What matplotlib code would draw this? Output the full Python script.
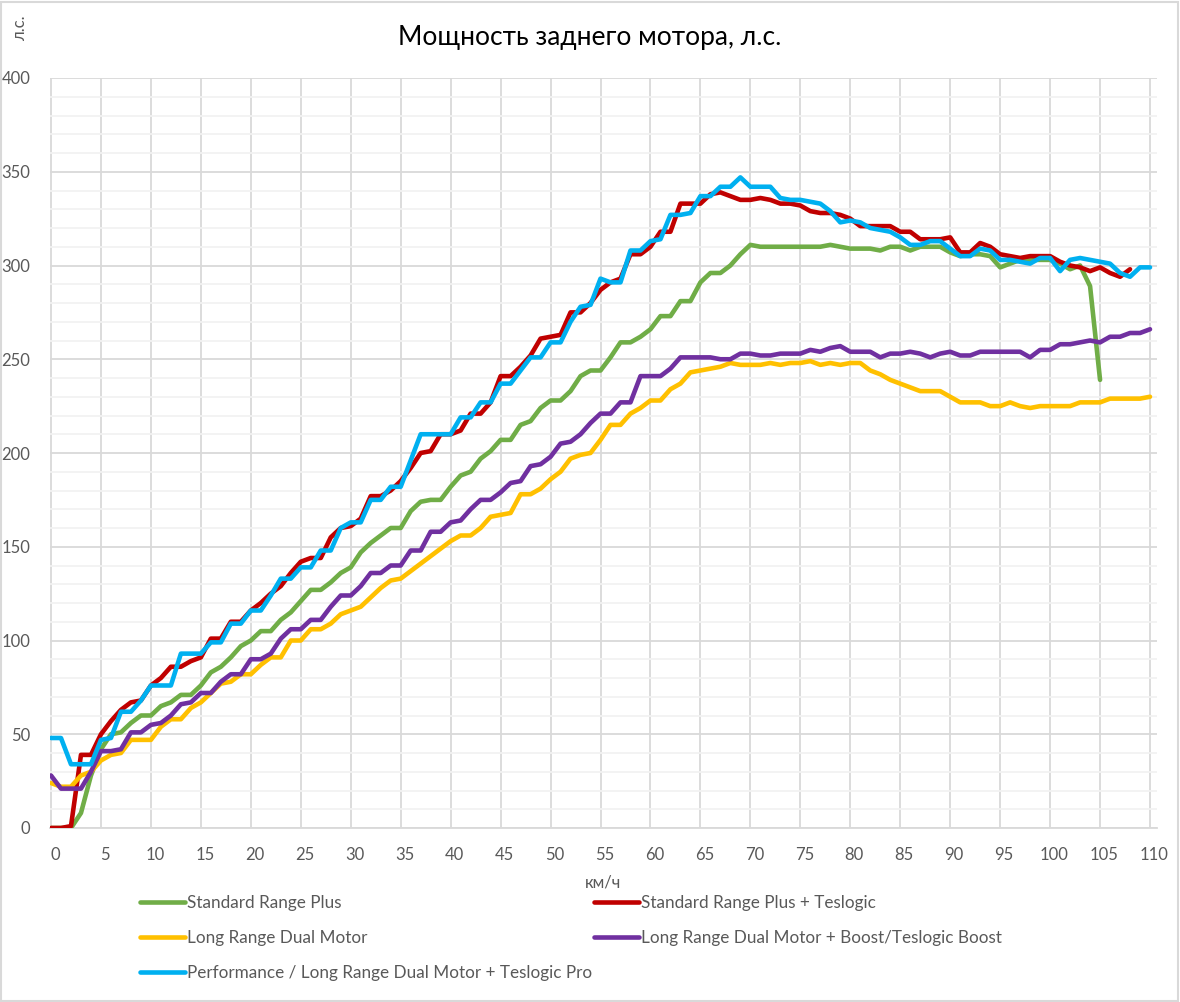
import matplotlib
matplotlib.use("Agg")
import matplotlib.pyplot as plt
from matplotlib.patches import Rectangle
from matplotlib.ticker import MultipleLocator
from matplotlib.transforms import ScaledTranslation

plt.rcParams['font.family'] = ['Lato', 'DejaVu Sans']

speed = list(range(0, 111))

standard_range_plus = [
    0, 0, 0, 8, 28, 42, 50, 51, 56, 60,
    60, 65, 67, 71, 71, 76, 83, 86, 91, 97,
    100, 105, 105, 111, 115, 121, 127, 127, 131, 136,
    139, 147, 152, 156, 160, 160, 169, 174, 175, 175,
    182, 188, 190, 197, 201, 207, 207, 215, 217, 224,
    228, 228, 233, 241, 244, 244, 251, 259, 259, 262,
    266, 273, 273, 281, 281, 291, 296, 296, 300, 306,
    311, 310, 310, 310, 310, 310, 310, 310, 311, 310,
    309, 309, 309, 308, 310, 310, 308, 310, 310, 310,
    307, 305, 306, 306, 305, 299, 301, 303, 303, 303,
    303, 301, 298, 300, 289, 239, None, None, None, None,
    None]

standard_range_plus_teslogic = [
    0, 0, 1, 39, 39, 50, 57, 63, 67, 68,
    76, 80, 86, 86, 89, 91, 101, 101, 110, 110,
    116, 120, 125, 129, 136, 142, 144, 144, 155, 160,
    161, 165, 177, 177, 180, 185, 192, 200, 201, 210,
    210, 212, 221, 221, 227, 241, 241, 246, 252, 261,
    262, 263, 275, 275, 280, 287, 291, 293, 306, 306,
    310, 318, 318, 333, 333, 333, 338, 339, 337, 335,
    335, 336, 335, 333, 333, 332, 329, 328, 328, 327,
    325, 321, 321, 321, 321, 318, 318, 314, 314, 314,
    315, 307, 307, 312, 310, 306, 305, 304, 305, 305,
    305, 302, 300, 299, 297, 299, 296, 294, 298, None,
    None]

long_range_dual = [
    24, 22, 22, 28, 30, 36, 39, 40, 47, 47,
    47, 54, 58, 58, 64, 67, 72, 77, 78, 82,
    82, 87, 91, 91, 100, 100, 106, 106, 109, 114,
    116, 118, 123, 128, 132, 133, 137, 141, 145, 149,
    153, 156, 156, 160, 166, 167, 168, 178, 178, 181,
    186, 190, 197, 199, 200, 207, 215, 215, 221, 224,
    228, 228, 234, 237, 243, 244, 245, 246, 248, 247,
    247, 247, 248, 247, 248, 248, 249, 247, 248, 247,
    248, 248, 244, 242, 239, 237, 235, 233, 233, 233,
    230, 227, 227, 227, 225, 225, 227, 225, 224, 225,
    225, 225, 225, 227, 227, 227, 229, 229, 229, 229,
    230]

long_range_dual_boost = [
    28, 21, 21, 21, 30, 41, 41, 42, 51, 51,
    55, 56, 60, 66, 67, 72, 72, 78, 82, 82,
    90, 90, 93, 101, 106, 106, 111, 111, 118, 124,
    124, 129, 136, 136, 140, 140, 148, 148, 158, 158,
    163, 164, 170, 175, 175, 179, 184, 185, 193, 194,
    198, 205, 206, 210, 216, 221, 221, 227, 227, 241,
    241, 241, 245, 251, 251, 251, 251, 250, 250, 253,
    253, 252, 252, 253, 253, 253, 255, 254, 256, 257,
    254, 254, 254, 251, 253, 253, 254, 253, 251, 253,
    254, 252, 252, 254, 254, 254, 254, 254, 251, 255,
    255, 258, 258, 259, 260, 259, 262, 262, 264, 264,
    266]

performance = [
    48, 48, 34, 34, 34, 47, 48, 62, 62, 68,
    76, 76, 76, 93, 93, 93, 99, 99, 109, 109,
    116, 116, 124, 133, 133, 139, 139, 148, 148, 160,
    163, 163, 175, 175, 182, 182, 196, 210, 210, 210,
    210, 219, 219, 227, 227, 237, 237, 244, 251, 251,
    259, 259, 270, 278, 279, 293, 291, 291, 308, 308,
    313, 314, 327, 327, 328, 337, 337, 342, 342, 347,
    342, 342, 342, 336, 335, 335, 334, 333, 329, 323,
    324, 323, 320, 319, 318, 315, 311, 311, 313, 313,
    309, 305, 305, 309, 308, 303, 303, 302, 301, 304,
    304, 297, 303, 304, 303, 302, 301, 296, 294, 299,
    299]

series_names = [
    "Standard Range Plus",
    "Standard Range Plus + Teslogic",
    "Long Range Dual Motor",
    "Long Range Dual Motor + Boost/Teslogic Boost",
    "Performance / Long Range Dual Motor + Teslogic Pro",
]
series_values = [standard_range_plus, standard_range_plus_teslogic,
                 long_range_dual, long_range_dual_boost, performance]
series_colors = ["#70AD47", "#C00000", "#FFC000", "#7030A0", "#00B0F0"]

x_ticks = list(range(0, 111, 5))

W, H = 1180, 1002
fig = plt.figure(figsize=(W / 100, H / 100), dpi=100)
ax = fig.add_axes([50 / W, 1 - 828 / H, (1157 - 50) / W, (828 - 78) / H])

lines = []
for name, vals, col in zip(series_names, series_values, series_colors):
    yv = [float('nan') if v is None else v for v in vals]
    ln, = ax.plot(speed, yv, color=col, lw=3.3, label=name,
                  solid_joinstyle='round', solid_capstyle='round', zorder=3)
    lines.append(ln)

ax.set_xlim(-0.1, 110.7)
ax.set_ylim(0, 400)
ax.set_xticks(x_ticks)
ax.set_xticklabels([str(t) for t in x_ticks])
ax.yaxis.set_major_locator(MultipleLocator(50))
ax.yaxis.set_minor_locator(MultipleLocator(10))
ax.grid(which='major', axis='both', color='#D9D9D9', lw=1.3, zorder=1)
ax.grid(which='minor', axis='y', color='#F2F2F2', lw=1.3, zorder=0)
ax.set_axisbelow(True)
for s in ['top', 'right', 'left']:
    ax.spines[s].set_visible(False)
ax.spines['bottom'].set_color('#D9D9D9')
ax.spines['bottom'].set_linewidth(1.3)
ax.tick_params(axis='both', which='both', length=0, colors='#595959',
               labelsize=12)
ax.tick_params(axis='y', pad=14)
ax.tick_params(axis='x', pad=14)
shift = ScaledTranslation(4 / 100, 0, fig.dpi_scale_trans)
for lbl in ax.get_xticklabels():
    lbl.set_transform(lbl.get_transform() + shift)

ax.set_xlabel("км/ч", fontsize=12, color='#595959', labelpad=8)

fig.text(590 / W, 1 - 37 / H, "Мощность заднего мотора, л.с.",
         ha='center', va='center', fontsize=19, color='#000000')
fig.text(20 / W, 1 - 28 / H, "л.с.", rotation=90, ha='center', va='center',
         fontsize=12, color='#595959')

leg_kw = dict(frameon=False, fontsize=12.3, handlelength=2.65,
              handletextpad=0.12, labelspacing=1.12, borderaxespad=0,
              borderpad=0, labelcolor='#595959', loc='upper left')
fig.legend([lines[0], lines[2], lines[4]],
           [series_names[0], series_names[2], series_names[4]],
           bbox_to_anchor=(140 / W, 1 - 895 / H), **leg_kw)
fig.legend([lines[1], lines[3]], [series_names[1], series_names[3]],
           bbox_to_anchor=(594 / W, 1 - 895 / H), **leg_kw)

fig.patches.append(Rectangle((1 / W, 1 / H), (W - 3) / W, (H - 3) / H,
                             transform=fig.transFigure, fill=False,
                             edgecolor='#D9D9D9', lw=1.5))

fig.savefig("out.png", dpi=100, facecolor='white')
